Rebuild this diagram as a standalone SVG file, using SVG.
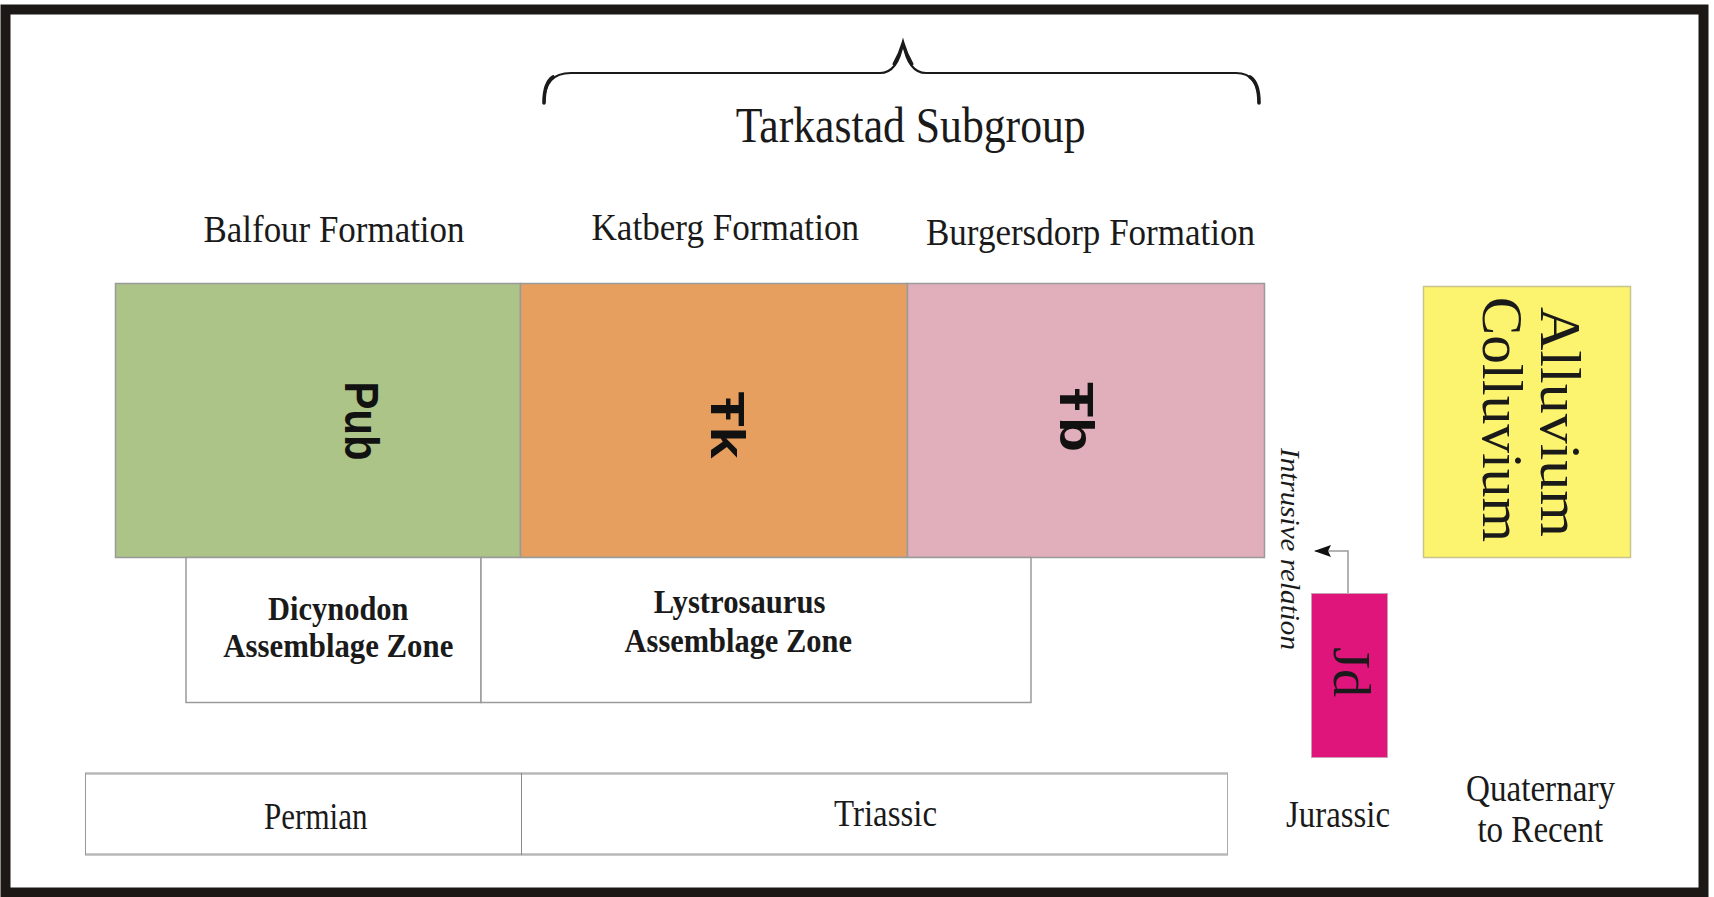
<svg xmlns="http://www.w3.org/2000/svg" width="1714" height="897" viewBox="0 0 1714 897">
<style>
.serif{font-family:"Liberation Serif","Times New Roman",serif;fill:#1a1a1a}
.sym{font-family:"Liberation Sans",Arial,sans-serif;font-weight:bold;fill:#111}
.lbl{font-size:37px}
.bold{font-weight:bold;font-size:34px}
.unit{stroke:#9a9a9a;stroke-width:1.5}
.zone{fill:#fff;stroke:#9a9a9a;stroke-width:1.5}
.period{fill:#fff;stroke:none}
.brace{fill:none;stroke:#1a1a1a;stroke-linecap:round}
</style>
<defs>
<marker id="arr" markerWidth="17" markerHeight="12" refX="16" refY="6" orient="auto" markerUnits="userSpaceOnUse">
<path d="M0,0 L17,6 L0,12 L3,6 Z" fill="#111"/>
</marker>
</defs>
<rect x="0" y="0" width="1714" height="897" fill="#fff"/>
<rect id="frame" x="5.5" y="9.5" width="1698" height="883" fill="none" stroke="#1b1816" stroke-width="10"/>

<g id="tarkastad">
<path class="brace" d="M544,103 C544,86 551,73 571,73 L880,73 C893,73 900,60 903,43 C906,60 913,73 926,73 L1236,73 C1254,73 1259,86 1259,103" stroke-width="2.2"/>
<path class="brace" d="M544,103 C544,90 547,81 553,77" stroke-width="3.6"/>
<path class="brace" d="M1259,103 C1259,90 1256,81 1250,77" stroke-width="3.6"/>
<path class="brace" d="M894,64 C898,57 901,50 903,43 C905,50 908,57 912,64" stroke-width="3"/>
<text class="serif" x="910.7" y="141.7" font-size="50" text-anchor="middle" textLength="350" lengthAdjust="spacingAndGlyphs">Tarkastad Subgroup</text>
</g>

<g id="formation-labels">
<text class="serif lbl" x="203.5" y="241.7" textLength="261" lengthAdjust="spacingAndGlyphs">Balfour Formation</text>
<text class="serif lbl" x="591.5" y="240" textLength="267.5" lengthAdjust="spacingAndGlyphs">Katberg Formation</text>
<text class="serif lbl" x="926" y="245" textLength="329" lengthAdjust="spacingAndGlyphs">Burgersdorp Formation</text>
</g>

<g id="pub">
<rect class="unit" x="115.5" y="283.5" width="405" height="274" fill="#acc487"/>
<text class="sym" transform="translate(345,421) rotate(90)" font-size="48" text-anchor="middle" textLength="79" lengthAdjust="spacingAndGlyphs">Pub</text>
</g>
<g id="trk">
<rect class="unit" x="520.5" y="283.5" width="387" height="274" fill="#e69f5e"/>
<text class="sym" transform="translate(711,425) rotate(90)" font-size="48" text-anchor="middle" textLength="67" lengthAdjust="spacingAndGlyphs">Ŧk</text>
</g>
<g id="trb">
<rect class="unit" x="907.5" y="283.5" width="357" height="274" fill="#e1aebb"/>
<text class="sym" transform="translate(1059.5,417) rotate(90)" font-size="48" text-anchor="middle" textLength="70" lengthAdjust="spacingAndGlyphs">Ŧb</text>
</g>

<g id="alluvium">
<rect x="1423.5" y="286.5" width="207" height="271" fill="#fcf46f" stroke="#c9c48a" stroke-width="1.5"/>
<text class="serif" transform="translate(1541,422) rotate(90)" font-size="57" text-anchor="middle" textLength="230" lengthAdjust="spacingAndGlyphs">Alluvium</text>
<text class="serif" transform="translate(1483,419.5) rotate(90)" font-size="57" text-anchor="middle" textLength="245" lengthAdjust="spacingAndGlyphs">Colluvium</text>
</g>

<g id="jd">
<rect x="1311.5" y="593.5" width="76" height="164" fill="#e0157b" stroke="#c8a0b0" stroke-width="1"/>
<text class="serif" transform="translate(1334,672) rotate(90)" font-size="52" text-anchor="middle" textLength="50" lengthAdjust="spacingAndGlyphs">Jd</text>
</g>

<g id="connectors">
<polyline points="1348,593 1348,551 1315,551" fill="none" stroke="#9a9a9a" stroke-width="1.5" marker-end="url(#arr)"/>
<text class="serif" transform="translate(1281,549) rotate(90)" font-size="27" font-style="italic" text-anchor="middle" textLength="202" lengthAdjust="spacingAndGlyphs">Intrusive relation</text>
</g>

<g id="dicynodon">
<rect class="zone" x="186" y="557.5" width="295" height="145"/>
<text class="serif bold" x="268" y="619.5" textLength="140.5" lengthAdjust="spacingAndGlyphs">Dicynodon</text>
<text class="serif bold" x="223.3" y="656.7" textLength="230" lengthAdjust="spacingAndGlyphs">Assemblage Zone</text>
</g>
<g id="lystrosaurus">
<rect class="zone" x="481" y="557.5" width="550" height="145"/>
<text class="serif bold" x="653.8" y="613" textLength="171.7" lengthAdjust="spacingAndGlyphs">Lystrosaurus</text>
<text class="serif bold" x="624.6" y="651.5" textLength="227.3" lengthAdjust="spacingAndGlyphs">Assemblage Zone</text>
</g>

<g id="permian">
<rect class="period" x="85" y="773.5" width="436" height="81"/>
<line x1="85" y1="773.5" x2="521" y2="773.5" stroke="#b8b8b8" stroke-width="2.5"/>
<line x1="85" y1="854.5" x2="521" y2="854.5" stroke="#b8b8b8" stroke-width="2.5"/>
<line x1="85.5" y1="773" x2="85.5" y2="855" stroke="#999" stroke-width="1"/>
<text class="serif lbl" x="264" y="828.5" textLength="103.5" lengthAdjust="spacingAndGlyphs">Permian</text>
</g>
<g id="triassic">
<rect class="period" x="521" y="773.5" width="707" height="81"/>
<line x1="521" y1="773.5" x2="1228" y2="773.5" stroke="#b8b8b8" stroke-width="2.5"/>
<line x1="521" y1="854.5" x2="1228" y2="854.5" stroke="#b8b8b8" stroke-width="2.5"/>
<line x1="521.5" y1="773" x2="521.5" y2="855" stroke="#888" stroke-width="1"/>
<line x1="1227.5" y1="773" x2="1227.5" y2="855" stroke="#aaa" stroke-width="1"/>
<text class="serif lbl" x="834" y="826" textLength="103" lengthAdjust="spacingAndGlyphs">Triassic</text>
</g>
<g id="jurassic">
<text class="serif lbl" x="1286" y="827" textLength="104" lengthAdjust="spacingAndGlyphs">Jurassic</text>
</g>
<g id="quaternary">
<text class="serif lbl" x="1466" y="801" textLength="149" lengthAdjust="spacingAndGlyphs">Quaternary</text>
<text class="serif lbl" x="1477.4" y="842" textLength="125.7" lengthAdjust="spacingAndGlyphs">to Recent</text>
</g>
</svg>
